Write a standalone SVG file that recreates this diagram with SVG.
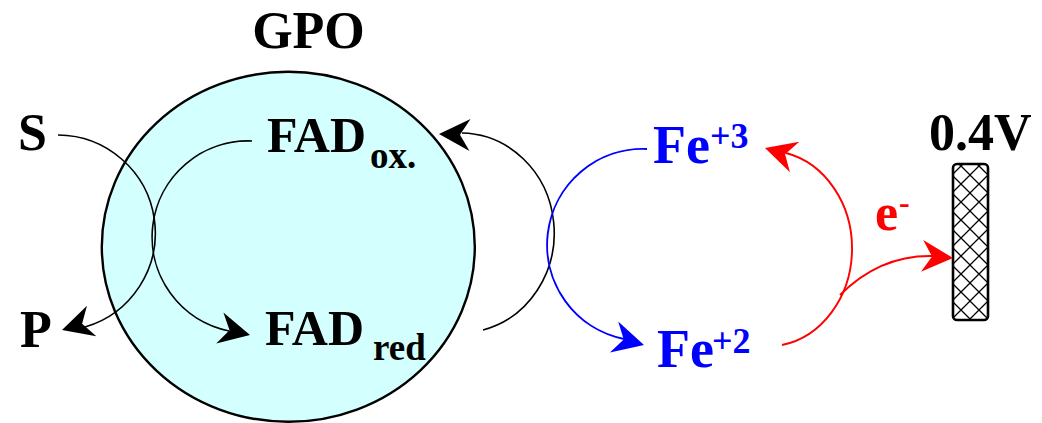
<svg xmlns="http://www.w3.org/2000/svg" xmlns:xlink="http://www.w3.org/1999/xlink" width="1042" height="423" viewBox="0 0 1042 423">
  <style>
    .lbl { font-family: "Liberation Serif", "Times New Roman", serif; font-weight: bold; }
    .big { font-size: 52px; }
    .sub { font-size: 37px; }
    .blk { fill: #000; }
    .blu { fill: #0000ff; }
    .red { fill: #ff0000; }
    .arc { fill: none; stroke-width: 1.6; }
    .k { stroke: #000; }
    .b { stroke: #0000ff; stroke-width: 1.9; }
    .r { stroke: #ff0000; stroke-width: 1.9; }
  </style>
  <defs>
    <!-- barbed arrowhead, tip at origin, pointing along +x -->
    <path id="head" d="M0,0 L-31,-16 L-21,0 L-31,16 Z"/>
    <!-- diagonal cross-hatch for the electrode -->
    <pattern id="hatch" patternUnits="userSpaceOnUse" x="16" y="13" width="18" height="18">
      <path d="M-2,-2 L20,20 M20,-2 L-2,20" stroke="#000" stroke-width="1.3" fill="none"/>
    </pattern>
  </defs>

  <rect width="1042" height="423" fill="#fff"/>

  <!-- enzyme body -->
  <g id="gpo">
    <ellipse cx="288.3" cy="246.8" rx="186.5" ry="175" fill="#d4ffff" stroke="#000" stroke-width="2.4"/>
    <text class="lbl big blk" x="308.5" y="48" text-anchor="middle">GPO</text>
  </g>

  <g id="substrate">
    <text class="lbl big blk" x="18" y="150">S</text>
  </g>
  <g id="product">
    <text class="lbl big blk" x="20" y="347">P</text>
  </g>

  <g id="fad-ox">
    <text class="lbl blk" x="267" y="152" font-size="50">FAD</text>
    <text class="lbl sub blk" x="370" y="168">ox.</text>
  </g>
  <g id="fad-red">
    <text class="lbl blk" x="265" y="345" font-size="50">FAD</text>
    <text class="lbl sub blk" x="373" y="360">red</text>
  </g>

  <g id="fe3">
    <text class="lbl blu" x="653" y="163" font-size="54">Fe</text>
    <text class="lbl blu" x="710" y="148" font-size="36">+3</text>
  </g>
  <g id="fe2">
    <text class="lbl blu" x="657" y="367" font-size="54">Fe</text>
    <text class="lbl blu" x="712" y="353" font-size="36">+2</text>
  </g>

  <g id="electrode">
    <rect x="953" y="164" width="35" height="156" rx="4" ry="4" fill="url(#hatch)" stroke="#000" stroke-width="2.6"/>
    <text class="lbl big blk" x="929" y="150">0.4V</text>
  </g>

  <g id="connectors">
    <!-- S to P -->
    <path class="arc k" d="M58,135 A98,98 0 0 1 85,327"/>
    <use xlink:href="#head" transform="translate(62,330) rotate(163)"/>
    <!-- FADox to FADred -->
    <path class="arc k" d="M252,141 A96,96 0 0 0 229,331"/>
    <use xlink:href="#head" transform="translate(250,335) rotate(13)"/>
    <!-- FADred back to FADox -->
    <path class="arc k" d="M483,330 A94,100 0 0 0 462,133"/>
    <use xlink:href="#head" transform="translate(439,134) rotate(182)"/>
    <!-- Fe+3 to Fe+2 -->
    <path class="arc b" d="M647,149 A96,96 0 0 0 624,339"/>
    <use xlink:href="#head" fill="#0000ff" transform="translate(644,345) rotate(15)"/>
    <!-- Fe+2 to Fe+3 -->
    <path class="arc r" d="M782,345 A85,98 0 0 0 786,153"/>
    <use xlink:href="#head" fill="#ff0000" transform="translate(765,148) rotate(197)"/>
    <!-- electron to electrode -->
    <path class="arc r" d="M840,295 Q880,255 932,256"/>
    <use xlink:href="#head" fill="#ff0000" transform="translate(953,258) rotate(4)"/>
  </g>

  <g id="electron">
    <text class="lbl red" x="875" y="230" font-size="52">e</text>
    <text class="lbl red" x="899" y="213" font-size="32">-</text>
  </g>
</svg>
